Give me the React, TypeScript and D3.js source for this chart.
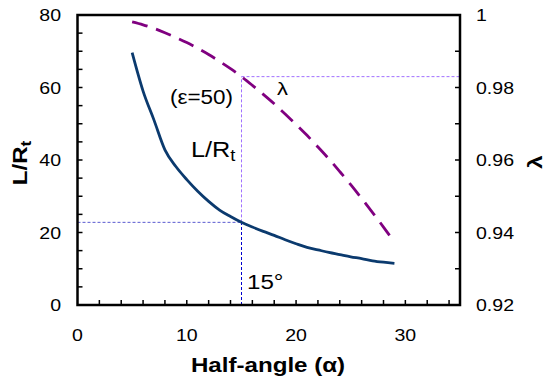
import React from "react";
import * as d3 from "d3";

const alpha = [5, 6, 7, 8, 9, 10, 11, 12, 13, 14, 15, 16, 17, 18, 19, 20, 21, 22, 23, 24, 25, 26, 27, 28, 29];
const lRt = [69.6, 59, 51, 42.8, 38.2, 34.6, 31.4, 28.6, 26.2, 24.4, 22.8, 21.5, 20.3, 19.2, 18.0, 16.9, 15.9, 15.2, 14.5, 13.9, 13.3, 12.8, 12.2, 11.8, 11.5];
const lambda = [0.9981, 0.9973, 0.9963, 0.9951, 0.9938, 0.9924, 0.9908, 0.9891, 0.9872, 0.9852, 0.983, 0.9806, 0.9781, 0.9755, 0.9727, 0.9698, 0.9668, 0.9636, 0.9603, 0.9568, 0.9532, 0.9494, 0.9455, 0.9415, 0.9373];
const xTicks = [0, 10, 20, 30];
const yTicks = [0, 20, 40, 60, 80];
const y2Ticks = [0.92, 0.94, 0.96, 0.98, 1];
const refAlpha = 15;
const refL = 22.8;
const refLambda = 0.983;

const W = 546, H = 383;
const L = 77.5, R = 460, T = 15, B = 305;
const FONT = "Liberation Sans, Arial, sans-serif";
const SX = 1.15;

function T2({ x, y, anchor = "start", size, bold = false, rotate = 0, children }: any) {
  return (
    <text
      transform={`translate(${x},${y}) rotate(${rotate}) scale(${SX},1)`}
      textAnchor={anchor}
      fontSize={size}
      fontWeight={bold ? "bold" : "normal"}
    >
      {children}
    </text>
  );
}

export default function App() {
  const x = d3.scaleLinear().domain([0, 35]).range([L, R]);
  const y = d3.scaleLinear().domain([0, 80]).range([B, T]);
  const y2 = d3.scaleLinear().domain([0.92, 1]).range([B, T]);
  const lineL = d3.line<number>().x((_, i) => x(alpha[i])).y((d) => y(d)).curve(d3.curveMonotoneX);
  const lineLam = d3.line<number>().x((_, i) => x(alpha[i])).y((d) => y2(d)).curve(d3.curveMonotoneX);
  const xMinor = d3.range(2, 35, 2);
  const yMinor = d3.range(5, 80, 5);
  const y2Minor = d3.range(0.93, 0.9995, 0.01);
  const tk = 5;
  const xr = Math.round(x(refAlpha)) + 0.5;
  return (
    <svg width={W} height={H} style={{ position: "absolute", left: 0, top: 0, background: "#fff" }} fontFamily={FONT}>
      <line x1={xr} x2={xr} y1={B} y2={y(refL)} stroke="#0000cc" strokeWidth={1} strokeDasharray="3,2" />
      <line x1={xr} x2={xr} y1={y(refL)} y2={y2(refLambda)} stroke="#a070ff" strokeWidth={1} strokeDasharray="3,2" />
      <line x1={L} x2={xr} y1={y(refL)} y2={y(refL)} stroke="#5a5ad0" strokeWidth={1} strokeDasharray="3,2" />
      <line x1={xr} x2={R} y1={y2(refLambda)} y2={y2(refLambda)} stroke="#a070ff" strokeWidth={1} strokeDasharray="3,2" />
      <path d={lineL(lRt) || ""} fill="none" stroke="#0b3a6e" strokeWidth={2.8} />
      <path d={lineLam(lambda) || ""} fill="none" stroke="#800080" strokeWidth={2.8} strokeDasharray="16,9" />
      {xMinor.map((v, i) => (
        <line key={"xt" + i} x1={x(v)} x2={x(v)} y1={B} y2={B - tk} stroke="#000" strokeWidth={1.5} />
      ))}
      {yMinor.map((v, i) => (
        <line key={"yt" + i} x1={L} x2={L + tk} y1={y(v)} y2={y(v)} stroke="#000" strokeWidth={1.5} />
      ))}
      {y2Minor.map((v, i) => (
        <line key={"y2t" + i} x1={R} x2={R - tk} y1={y2(v)} y2={y2(v)} stroke="#000" strokeWidth={1.5} />
      ))}
      <rect x={L} y={T} width={R - L} height={B - T} fill="none" stroke="#000" strokeWidth={2.5} />
      {xTicks.map((v) => (
        <T2 key={"xl" + v} x={x(v)} y={341} anchor="middle" size={17}>{v}</T2>
      ))}
      {yTicks.map((v) => (
        <T2 key={"yl" + v} x={61} y={y(v) + 6} anchor="end" size={17}>{v}</T2>
      ))}
      {y2Ticks.map((v) => (
        <T2 key={"y2l" + v} x={476} y={y2(v) + 6} size={17}>{String(v)}</T2>
      ))}
      <T2 x={268} y={372} anchor="middle" size={21} bold>Half-angle (α)</T2>
      <T2 x={27} y={163} anchor="middle" size={21} bold rotate={-90}>
        L/R<tspan fontSize={15} dy={4}>t</tspan>
      </T2>
      <T2 x={542} y={162} anchor="middle" size={21} bold rotate={-90}>λ</T2>
      <T2 x={170} y={104} size={19.5}>(ε=50)</T2>
      <T2 x={191} y={157} size={22}>L/R<tspan fontSize={16} dy={4}>t</tspan></T2>
      <T2 x={277} y={95} size={19}>λ</T2>
      <T2 x={247} y={289} size={21}>15°</T2>
    </svg>
  );
}
